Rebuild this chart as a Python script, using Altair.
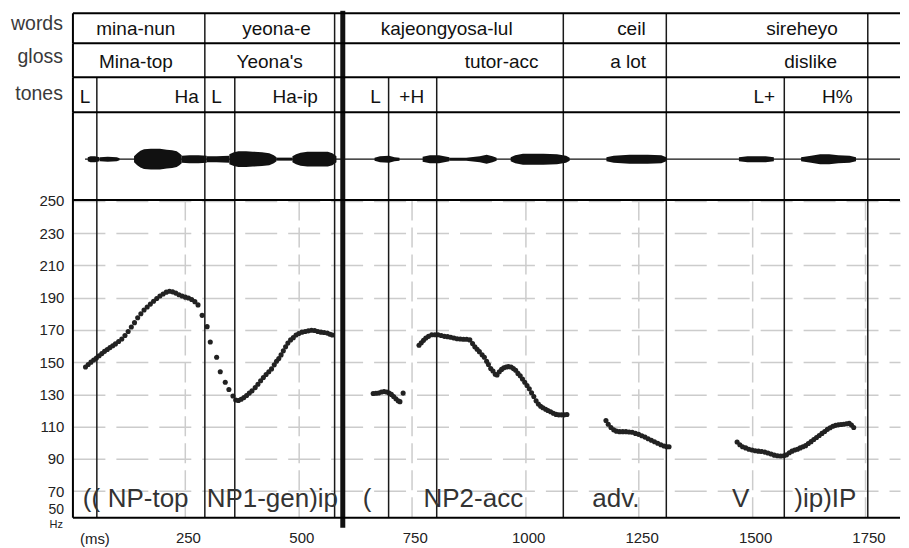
import altair as alt
import pandas as pd

FONT = "Liberation Sans"
X0, X1 = 3.3, 1826
W = 828
H_WORDS, H_GLOSS, H_TONES, H_WAVE, H_PITCH = 30, 34, 35, 88, 318

# ---------------- data ----------------
words = ["mina-nun", "yeona-e", "kajeongyosa-lul", "ceil", "sireheyo"]
words_ms = [142, 452, 827, 1234, 1610]
gloss = ["Mina-top", "Yeona's", "tutor-acc", "a lot", "dislike"]
gloss_ms = [142, 437, 948, 1227, 1629]
tones = ["L", "Ha", "L", "Ha-ip", "L", "+H", "L+", "H%"]
tones_ms = [30, 254, 320, 493, 670, 750, 1527, 1688]

word_bounds = [294, 580, 1084, 1311, 1755]
tone_bounds = [56, 360, 699, 805, 1571]
ip_break = [598]

phrases = ["((", "NP-top", "NP1-gen)ip", "(", "NP2-acc", "adv.", "V", ")ip)IP"]
phrases_ms = [25, 80, 298, 642, 776, 1148, 1456, 1593]

x_ticks = [250, 500, 750, 1000, 1250, 1500, 1750]
y_ticks = [70, 90, 110, 130, 150, 170, 190, 210, 230, 250]

f0_1_ms = [31, 37, 43, 49, 55, 61, 67, 73, 79, 85, 91, 97, 104, 111, 118, 125, 132, 139, 146, 153,
           160, 167, 174, 181, 188, 195, 202, 209, 216, 223, 230, 237, 244, 251, 258, 265, 272, 279, 288, 299,
           306, 320, 328, 339, 347, 356, 362, 368, 374, 380, 386, 392, 398, 405, 411, 417, 423, 429, 435, 441,
           447, 452, 457, 462, 467, 472, 477, 483, 489, 495, 501, 508, 515, 522, 529, 536, 543, 550, 557, 564,
           570, 575]
f0_1_hz = [147, 148.5, 150, 151.3, 152.5, 154, 155.3, 156.7, 157.8, 159, 160.2, 161.3, 162.8, 164.3, 166.5, 169, 171.8, 174.5, 177.5, 180,
           182.3, 184.2, 186, 187.8, 189.5, 191, 192.3, 193.4, 194, 193.6, 192.8, 191.8, 191, 190.3, 189.8, 188.8, 187.5, 185.5, 179, 172,
           162.5, 153, 144, 137.5, 133, 129, 126.5, 126.2, 127, 128, 129.3, 130.8, 132.2, 134.2, 136.3, 138.5, 140.5, 142.3, 144, 145.8,
           148.3, 150.5, 152.2, 154.5, 157, 159.5, 161.8, 163.8, 165.2, 166.8, 167.8, 168.6, 169, 169.4, 169.8, 169.6, 169, 168.6, 168.4, 168,
           167.3, 166.8]
f0_2_ms = [665, 671, 677, 683, 689, 695, 700, 705, 710, 715, 720, 724, 731]
f0_2_hz = [130.5, 130.7, 130.9, 131.5, 131.8, 131.5, 130.8, 130, 128.7, 127.3, 126, 125.5, 130.8]
f0_3_ms = [766, 771, 776, 781, 787, 794, 801, 808, 815, 822, 829, 836, 843, 850, 857, 864, 871, 878, 884, 889,
           894, 899, 905, 910, 915, 919, 924, 929, 934, 938, 943, 948, 953, 958, 963, 969, 974, 979, 984, 989,
           994, 999, 1004, 1009, 1014, 1019, 1024, 1029, 1034, 1039, 1045, 1050, 1056, 1062, 1068, 1074, 1080, 1086, 1092]
f0_3_hz = [160.5, 162, 163.5, 165, 166, 167, 167, 167, 166.5, 166, 165.8, 165.4, 165, 164.5, 164.3, 164.2, 164.2, 163.8, 161.5, 159.5,
           158, 156.5, 154.6, 153, 150.5, 148.5, 146, 144.5, 142.5, 142, 144, 145.5, 146.5, 147, 147.2, 147, 146, 145, 143, 141.5,
           139.5, 137.5, 135.5, 133.5, 131, 128.7, 126, 124, 122.6, 121.7, 120.8, 120, 119.2, 118.3, 117.6, 117.3, 117.3, 117.3, 117.5]
f0_4_ms = [1178, 1183, 1189, 1195, 1201, 1208, 1215, 1222, 1229, 1236, 1243, 1250, 1257, 1264, 1271, 1278, 1285, 1292, 1299, 1306, 1312, 1317]
f0_4_hz = [113.8, 111.5, 109.5, 108, 107.2, 106.9, 106.9, 106.9, 106.7, 106.5, 105.8, 105.2, 104.3, 103.5, 102.5, 101.6, 100.6, 99.7, 98.8, 98, 97.5, 97.5]
f0_5_ms = [1467, 1473, 1479, 1486, 1493, 1500, 1507, 1514, 1521, 1528, 1535, 1542, 1549, 1556, 1563, 1570, 1576, 1582, 1588, 1594,
           1600, 1606, 1612, 1618, 1624, 1630, 1636, 1642, 1648, 1654, 1660, 1666, 1672, 1678, 1684, 1690, 1696, 1702, 1708, 1714, 1719, 1724]
f0_5_hz = [100.5, 98.8, 97.5, 96.8, 96, 95.5, 95, 94.8, 94.6, 94.2, 93.6, 93, 92.3, 91.9, 91.8, 91.9, 92.5, 93.8, 94.8, 95.5,
           96, 96.8, 97.5, 98.2, 99.5, 100.7, 102, 103.3, 104.5, 105.8, 107, 108.3, 109.3, 110.2, 110.8, 111.1, 111.3, 111.5, 111.8, 112, 111, 109.5]

# waveform envelope segments: (ms list, amplitude list)
wave_segments = [
    ([36, 42, 52, 62], [2, 3, 3, 2]),
    ([63, 80, 100, 106], [2, 2.5, 2, 1]),
    ([138, 145, 152, 160, 175, 195, 210, 222, 232, 238, 243], [3, 6, 8.5, 10, 10.5, 10.5, 9.5, 9, 8, 6, 4]),
    ([243, 260, 280, 298], [3.5, 4, 4, 3.5]),
    ([298, 320, 348], [3, 3, 3.5]),
    ([348, 358, 368, 385, 400, 420, 436, 446, 452], [5, 7, 8, 8, 7.5, 7, 6, 4, 2]),
    ([452, 487], [1.5, 1.5]),
    ([487, 495, 505, 520, 545, 565, 575, 584], [3, 5, 6.5, 7.5, 7.5, 7.5, 6, 3]),
    ([668, 680, 700, 712, 723], [1.5, 3, 3.5, 2, 1.5]),
    ([774, 790, 810, 833], [2.5, 4, 4, 2]),
    ([833, 870, 900, 915, 928, 937], [1.5, 1.5, 3, 4.5, 3, 1.5]),
    ([968, 978, 995, 1040, 1070, 1090, 1098], [2, 4, 5.5, 5.5, 5, 3.5, 1.5]),
    ([1179, 1195, 1230, 1270, 1300, 1311], [2, 3.5, 4.5, 4.5, 4, 2]),
    ([1471, 1490, 1530, 1548], [2, 3, 3, 2]),
    ([1608, 1630, 1650, 1670, 1690, 1715, 1729], [2, 3.5, 5, 5, 4, 3.5, 2]),
]
wave_zero_from = 30

# ---------------- helpers ----------------
one = pd.DataFrame({"k": [0]})
xs = alt.Scale(domain=[X0, X1], nice=False, zero=False)
LINE = "#1a1a1a"


def xenc(axis=None):
    return alt.X("ms:Q", scale=xs, axis=axis, title=None)


def frame(h, bottom=False):
    top = alt.Chart(one).mark_rule(color="black", strokeWidth=2).encode(
        x=alt.value(0), x2=alt.value(W), y=alt.value(0))
    left = alt.Chart(one).mark_rule(color="black", strokeWidth=2).encode(
        x=alt.value(0), y=alt.value(0), y2=alt.value(h))
    layers = [top, left]
    if bottom:
        layers.append(alt.Chart(one).mark_rule(color="black", strokeWidth=2).encode(
            x=alt.value(0), x2=alt.value(W), y=alt.value(h)))
    return layers


def bounds(vals, h, x):
    df = pd.DataFrame({"ms": vals})
    return alt.Chart(df).mark_rule(color=LINE, strokeWidth=1.5).encode(
        x=x, y=alt.value(0), y2=alt.value(h))


def thick(h, x, top=0, extra=0):
    df = pd.DataFrame({"ms": ip_break})
    return alt.Chart(df).mark_rule(color="#111", strokeWidth=5).encode(
        x=x, y=alt.value(top), y2=alt.value(h + extra))


def tier_panel(name, labels, ms, h, label_base, cell_base, lines, top=0):
    df = pd.DataFrame({"label": labels, "ms": ms})
    cells = alt.Chart(df).mark_text(font=FONT, fontSize=19, color="#111",
                                    baseline="alphabetic", align="center").encode(
        x=xenc(), y=alt.value(cell_base), text="label:N")
    tlabel = alt.Chart(one).mark_text(font=FONT, fontSize=19.5, color="#3a3a3a", align="right",
                                      baseline="alphabetic", text=name).encode(
        x=alt.value(-10), y=alt.value(label_base))
    layers = [bounds(lines, h, xenc()), cells, tlabel, thick(h, xenc(), top=top)] + frame(h)
    return alt.layer(*layers).properties(width=W, height=h)


words_p = tier_panel("words", words, words_ms, H_WORDS, 17, 22, word_bounds, top=-2.5)
gloss_p = tier_panel("gloss", gloss, gloss_ms, H_GLOSS, 20, 25, word_bounds)
tones_p = tier_panel("tones", tones, tones_ms, H_TONES, 23, 26, sorted(word_bounds + tone_bounds))

# waveform
rows = []
for i, (ms_list, amp_list) in enumerate(wave_segments):
    for m, a in zip(ms_list, amp_list):
        rows.append({"seg": i, "ms": m, "amp": a})
wave_df = pd.DataFrame(rows)
wy = alt.Scale(domain=[-41, 47])
wave_area = alt.Chart(wave_df).transform_calculate(neg="-datum.amp").mark_area(
    color="#111", interpolate="linear").encode(
    x=xenc(), y=alt.Y("amp:Q", scale=wy, axis=None), y2="neg:Q", detail="seg:N")
zero_line = alt.Chart(pd.DataFrame({"ms": [wave_zero_from], "ms2": [X1], "amp": [0]})).mark_rule(
    color="#111", strokeWidth=1.2).encode(x=xenc(), x2="ms2:Q", y=alt.Y("amp:Q", scale=wy, axis=None))
wave_p = alt.layer(
    bounds(sorted(word_bounds + tone_bounds), H_WAVE, xenc()),
    zero_line, wave_area, thick(H_WAVE, xenc()), *frame(H_WAVE)
).properties(width=W, height=H_WAVE)

# pitch
f0_rows = []
for ms_list, hz_list in [(f0_1_ms, f0_1_hz), (f0_2_ms, f0_2_hz), (f0_3_ms, f0_3_hz),
                         (f0_4_ms, f0_4_hz), (f0_5_ms, f0_5_hz)]:
    for m, v in zip(ms_list, hz_list):
        f0_rows.append({"ms": m, "hz": v})
f0_df = pd.DataFrame(f0_rows)

xaxis = alt.Axis(values=x_ticks, format="d", grid=True, gridDash=[20, 7], gridColor="#cccccc", gridWidth=1.5,
                 ticks=False, domain=False, labelFont=FONT, labelFontSize=15, labelColor="#222",
                 labelPadding=13, labelOffset=3, labelFlush=False, title=None)
yaxis = alt.Axis(values=y_ticks, format="d", grid=True, gridDash=[32, 11], gridColor="#cccccc", gridWidth=1.5,
                 ticks=False, domain=False, labelFont=FONT, labelFontSize=15, labelColor="#222",
                 labelPadding=9, labelFlush=False, title=None)
ys = alt.Scale(domain=[53.5, 250.5], nice=False, zero=False)
xp = xenc(xaxis)

dots = alt.Chart(f0_df).mark_circle(size=26, color="#222", opacity=1).encode(
    x=xp, y=alt.Y("hz:Q", scale=ys, axis=yaxis))
phr = alt.Chart(pd.DataFrame({"t": phrases, "ms": phrases_ms})).mark_text(
    font=FONT, fontSize=26, color="#333", align="left", baseline="alphabetic").encode(
    x=xp, y=alt.value(307), text="t:N")
fifty = alt.Chart(one).mark_text(font=FONT, fontSize=14, color="#222", align="right",
                                 baseline="middle", text="50").encode(x=alt.value(-9), y=alt.value(H_PITCH - 8))
hz_lbl = alt.Chart(one).mark_text(font=FONT, fontSize=11, color="#222", align="right",
                                  baseline="middle", text="Hz").encode(x=alt.value(-10), y=alt.value(H_PITCH + 7))
ms_lbl = alt.Chart(one).mark_text(font=FONT, fontSize=15, color="#222", align="center",
                                  baseline="middle", text="(ms)").encode(x=alt.value(22), y=alt.value(H_PITCH + 21))
spacer = alt.Chart(one).mark_rule(strokeOpacity=0).encode(
    x=alt.value(-65), x2=alt.value(-60), y=alt.value(10))

pitch_p = alt.layer(
    dots,
    bounds(sorted(word_bounds + tone_bounds), H_PITCH, xp),
    phr, fifty, hz_lbl, ms_lbl, spacer,
    thick(H_PITCH, xp, extra=10),
    *frame(H_PITCH, bottom=True)
).properties(width=W, height=H_PITCH)

chart = alt.vconcat(words_p, gloss_p, tones_p, wave_p, pitch_p, spacing=0, bounds="flush").properties(
    padding={"left": 0, "top": 0, "right": 0, "bottom": 0}
).configure_view(strokeWidth=0)

chart.save("out.html", embed_options={"renderer": "svg", "actions": False})
